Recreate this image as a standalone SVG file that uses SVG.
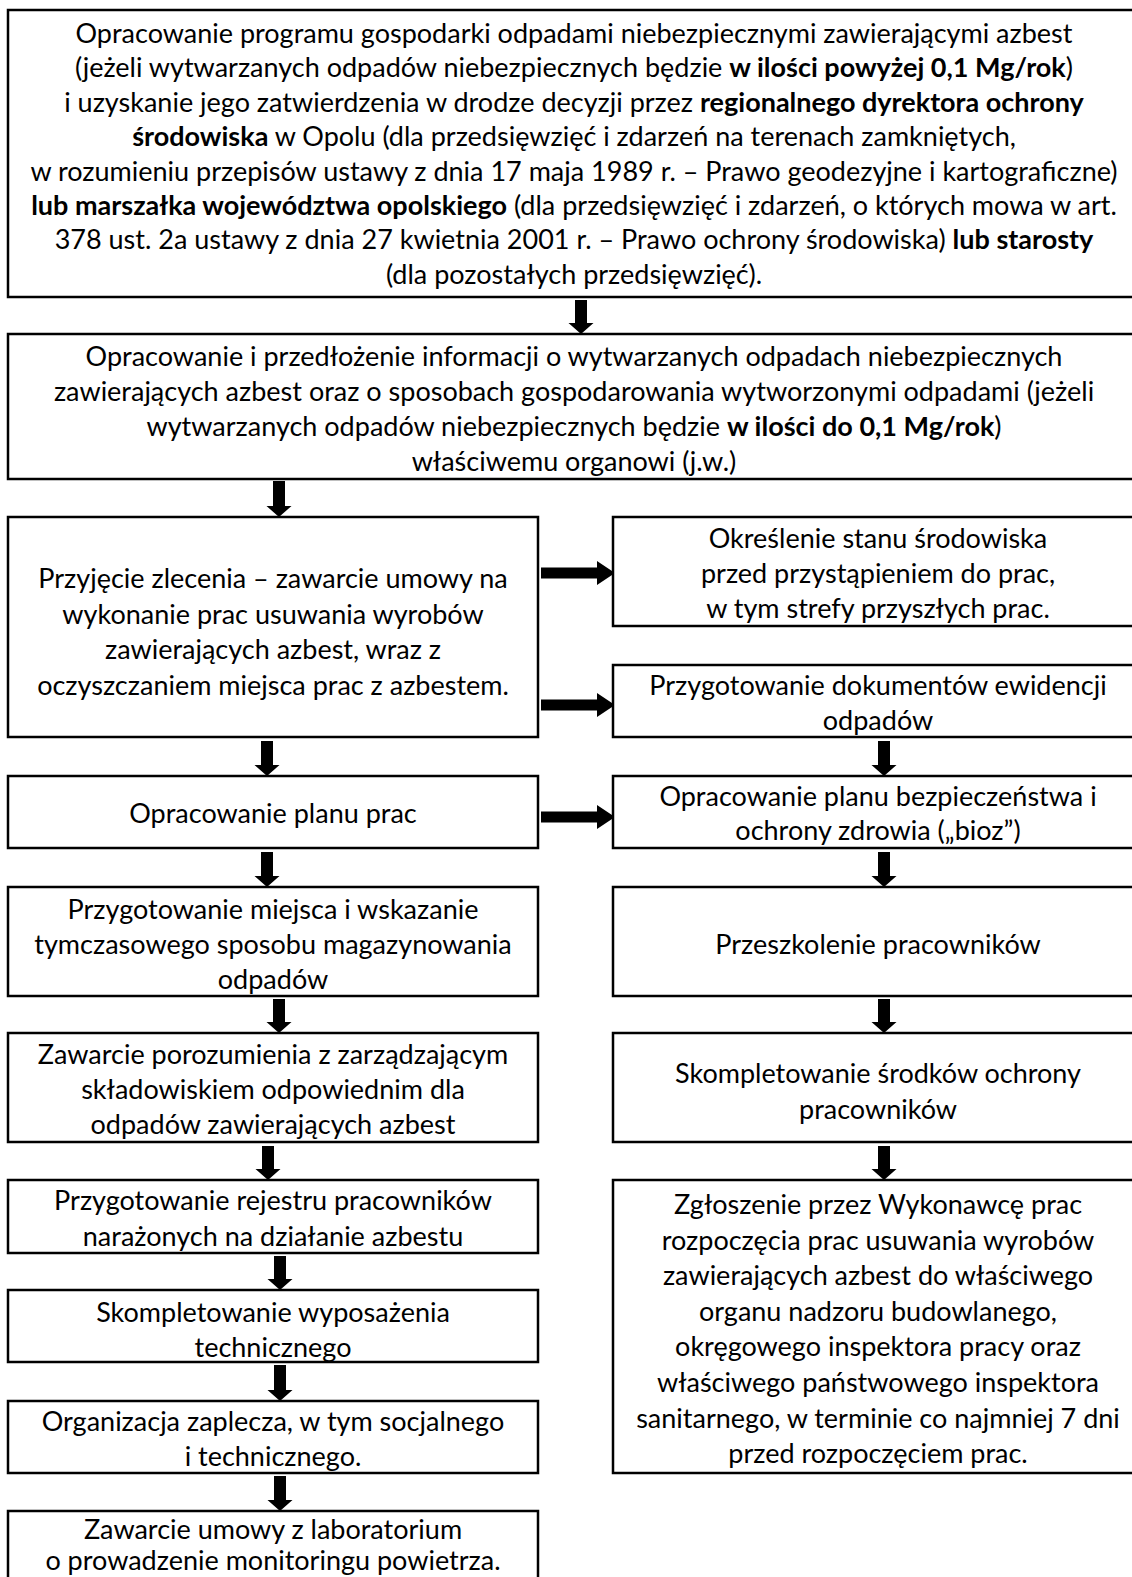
<svg xmlns="http://www.w3.org/2000/svg" width="1132" height="1577" viewBox="0 0 1132 1577">
<style>
.box{fill:#fff;stroke:#000;stroke-width:2.5}
.t{font-family:Lato,"Liberation Sans",sans-serif;font-size:27px;fill:#000;text-anchor:middle}
.b{font-weight:700}
.arr{fill:#000}
</style>
<rect width="1132" height="1577" fill="#fff"/>
<g id="connectors">
<polygon class="arr" points="575,300 587,300 587,323 593.5,323 581,334 568.5,323 575,323"/>
<polygon class="arr" points="273,481 285,481 285,506 291.5,506 279,517 266.5,506 273,506"/>
<polygon class="arr" points="261,741 273,741 273,765 279.5,765 267,776 254.5,765 261,765"/>
<polygon class="arr" points="261,852 273,852 273,876 279.5,876 267,887 254.5,876 261,876"/>
<polygon class="arr" points="273,999 285,999 285,1022 291.5,1022 279,1033 266.5,1022 273,1022"/>
<polygon class="arr" points="262,1146 274,1146 274,1169 280.5,1169 268,1180 255.5,1169 262,1169"/>
<polygon class="arr" points="274,1256 286,1256 286,1279 292.5,1279 280,1290 267.5,1279 274,1279"/>
<polygon class="arr" points="274,1365 286,1365 286,1390 292.5,1390 280,1401 267.5,1390 274,1390"/>
<polygon class="arr" points="274,1476 286,1476 286,1500 292.5,1500 280,1511 267.5,1500 274,1500"/>
<polygon class="arr" points="878,741 890,741 890,765 896.5,765 884,776 871.5,765 878,765"/>
<polygon class="arr" points="878,852 890,852 890,876 896.5,876 884,887 871.5,876 878,876"/>
<polygon class="arr" points="878,999 890,999 890,1022 896.5,1022 884,1033 871.5,1022 878,1022"/>
<polygon class="arr" points="878,1146 890,1146 890,1169 896.5,1169 884,1180 871.5,1169 878,1169"/>
<polygon class="arr" points="541,567.5 597,567.5 597,561 615,573 597,585 597,578.5 541,578.5"/>
<polygon class="arr" points="541,699.5 597,699.5 597,693 615,705 597,717 597,710.5 541,710.5"/>
<polygon class="arr" points="541,811.5 597,811.5 597,805 615,817 597,829 597,822.5 541,822.5"/>
</g>
<g id="n1">
<rect class="box" x="8" y="10" width="1134" height="287"/>
<text class="t" x="574" y="43">Opracowanie programu gospodarki odpadami niebezpiecznymi zawierającymi azbest</text>
<text class="t" x="574" y="77.4">(jeżeli wytwarzanych odpadów niebezpiecznych będzie <tspan class="b">w ilości powyżej 0,1 Mg/rok</tspan>)</text>
<text class="t" x="574" y="111.8">i uzyskanie jego zatwierdzenia w drodze decyzji przez <tspan class="b">regionalnego dyrektora ochrony</tspan></text>
<text class="t" x="574" y="146.2"><tspan class="b">środowiska</tspan> w Opolu (dla przedsięwzięć i zdarzeń na terenach zamkniętych,</text>
<text class="t" x="574" y="180.6">w rozumieniu przepisów ustawy z dnia 17 maja 1989 r. – Prawo geodezyjne i kartograficzne)</text>
<text class="t" x="574" y="215"><tspan class="b">lub marszałka województwa opolskiego</tspan> (dla przedsięwzięć i zdarzeń, o których mowa w art.</text>
<text class="t" x="574" y="249.4">378 ust. 2a ustawy z dnia 27 kwietnia 2001 r. – Prawo ochrony środowiska) <tspan class="b">lub starosty</tspan></text>
<text class="t" x="574" y="283.8">(dla pozostałych przedsięwzięć).</text>
</g>
<g id="n2">
<rect class="box" x="8" y="334" width="1134" height="145"/>
<text class="t" x="574" y="366">Opracowanie i przedłożenie informacji o wytwarzanych odpadach niebezpiecznych</text>
<text class="t" x="574" y="401">zawierających azbest oraz o sposobach gospodarowania wytworzonymi odpadami (jeżeli</text>
<text class="t" x="574" y="436">wytwarzanych odpadów niebezpiecznych będzie <tspan class="b">w ilości do 0,1 Mg/rok</tspan>)</text>
<text class="t" x="574" y="471">właściwemu organowi (j.w.)</text>
</g>
<g id="n3">
<rect class="box" x="8" y="517" width="530" height="220"/>
<text class="t" x="273" y="588">Przyjęcie zlecenia – zawarcie umowy na</text>
<text class="t" x="273" y="623.5">wykonanie prac usuwania wyrobów</text>
<text class="t" x="273" y="659">zawierających azbest, wraz z</text>
<text class="t" x="273" y="694.5">oczyszczaniem miejsca prac z azbestem.</text>
</g>
<g id="n4">
<rect class="box" x="613" y="517" width="530" height="109"/>
<text class="t" x="878" y="548">Określenie stanu środowiska</text>
<text class="t" x="878" y="583">przed przystąpieniem do prac,</text>
<text class="t" x="878" y="618">w tym strefy przyszłych prac.</text>
</g>
<g id="n5">
<rect class="box" x="613" y="665" width="530" height="72"/>
<text class="t" x="878" y="695">Przygotowanie dokumentów ewidencji</text>
<text class="t" x="878" y="730">odpadów</text>
</g>
<g id="n6">
<rect class="box" x="8" y="776" width="530" height="72"/>
<text class="t" x="273" y="823">Opracowanie planu prac</text>
</g>
<g id="n7">
<rect class="box" x="613" y="776" width="530" height="72"/>
<text class="t" x="878" y="806">Opracowanie planu bezpieczeństwa i</text>
<text class="t" x="878" y="840">ochrony zdrowia („bioz”)</text>
</g>
<g id="n8">
<rect class="box" x="8" y="887" width="530" height="109"/>
<text class="t" x="273" y="919">Przygotowanie miejsca i wskazanie</text>
<text class="t" x="273" y="954">tymczasowego sposobu magazynowania</text>
<text class="t" x="273" y="989">odpadów</text>
</g>
<g id="n9">
<rect class="box" x="613" y="887" width="530" height="109"/>
<text class="t" x="878" y="954">Przeszkolenie pracowników</text>
</g>
<g id="n10">
<rect class="box" x="8" y="1033" width="530" height="109"/>
<text class="t" x="273" y="1064">Zawarcie porozumienia z zarządzającym</text>
<text class="t" x="273" y="1099">składowiskiem odpowiednim dla</text>
<text class="t" x="273" y="1134">odpadów zawierających azbest</text>
</g>
<g id="n11">
<rect class="box" x="613" y="1033" width="530" height="109"/>
<text class="t" x="878" y="1083">Skompletowanie środków ochrony</text>
<text class="t" x="878" y="1119">pracowników</text>
</g>
<g id="n12">
<rect class="box" x="8" y="1180" width="530" height="73"/>
<text class="t" x="273" y="1210">Przygotowanie rejestru pracowników</text>
<text class="t" x="273" y="1246">narażonych na działanie azbestu</text>
</g>
<g id="n13">
<rect class="box" x="613" y="1180" width="530" height="293"/>
<text class="t" x="878" y="1214">Zgłoszenie przez Wykonawcę prac</text>
<text class="t" x="878" y="1249.6">rozpoczęcia prac usuwania wyrobów</text>
<text class="t" x="878" y="1285.2">zawierających azbest do właściwego</text>
<text class="t" x="878" y="1320.8">organu nadzoru budowlanego,</text>
<text class="t" x="878" y="1356.4">okręgowego inspektora pracy oraz</text>
<text class="t" x="878" y="1392">właściwego państwowego inspektora</text>
<text class="t" x="878" y="1427.6">sanitarnego, w terminie co najmniej 7 dni</text>
<text class="t" x="878" y="1463.2">przed rozpoczęciem prac.</text>
</g>
<g id="n14">
<rect class="box" x="8" y="1290" width="530" height="72"/>
<text class="t" x="273" y="1322">Skompletowanie wyposażenia</text>
<text class="t" x="273" y="1357">technicznego</text>
</g>
<g id="n15">
<rect class="box" x="8" y="1401" width="530" height="72"/>
<text class="t" x="273" y="1431">Organizacja zaplecza, w tym socjalnego</text>
<text class="t" x="273" y="1466">i technicznego.</text>
</g>
<g id="n16">
<rect class="box" x="8" y="1511" width="530" height="80"/>
<text class="t" x="273" y="1539">Zawarcie umowy z laboratorium</text>
<text class="t" x="273" y="1570">o prowadzenie monitoringu powietrza.</text>
</g>
</svg>
